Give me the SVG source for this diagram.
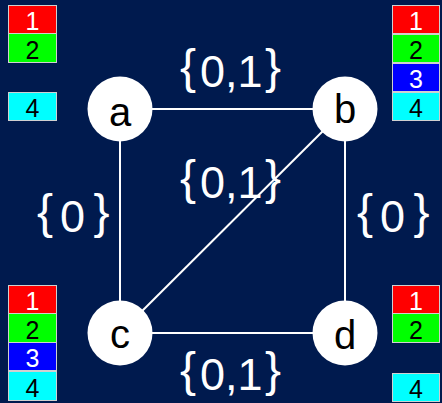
<svg xmlns="http://www.w3.org/2000/svg" width="442" height="403" viewBox="0 0 442 403">
<style>
.bg{fill:#001a4e}
.edge{stroke:#fff;stroke-width:2;fill:none}
.node circle{fill:#fff}
.node text{font-family:"Liberation Sans",Arial,sans-serif;font-size:40px;fill:#000;text-anchor:middle}
.lbl{font-family:"Liberation Sans",Arial,sans-serif;font-size:45px;fill:#fff}
.br{font-size:48px}
.box rect{stroke:#d0d0d0;stroke-width:1}
.box text{font-family:"Liberation Sans",Arial,sans-serif;font-size:25px;text-anchor:middle}
.r{fill:#ff0000}.g{fill:#00ff00}.b{fill:#0000ff}.c{fill:#00ffff}
.tw{fill:#fff}.tk{fill:#000}
</style>
<rect class="bg" x="0" y="0" width="442" height="403"/>
<g id="connectors">
<line class="edge" x1="120" y1="109" x2="345" y2="109"/>
<line class="edge" x1="120" y1="109" x2="120" y2="333"/>
<line class="edge" x1="345" y1="109" x2="345" y2="333"/>
<line class="edge" x1="120" y1="333" x2="345" y2="333"/>
<line class="edge" x1="345" y1="109" x2="120" y2="333"/>
</g>
<g id="edge-labels">
<text class="lbl"><tspan class="br" x="180" y="83">{</tspan><tspan x="200" y="87">0,1</tspan><tspan class="br" x="265" y="83">}</tspan></text>
<text class="lbl"><tspan class="br" x="180" y="194">{</tspan><tspan x="200" y="198">0,1</tspan><tspan class="br" x="265" y="194">}</tspan></text>
<text class="lbl"><tspan class="br" x="180" y="386">{</tspan><tspan x="200" y="390">0,1</tspan><tspan class="br" x="265" y="386">}</tspan></text>
<text class="lbl"><tspan class="br" x="37" y="228">{</tspan><tspan x="60" y="232">0</tspan><tspan class="br" x="93.5" y="228">}</tspan></text>
<text class="lbl"><tspan class="br" x="357" y="228">{</tspan><tspan x="380" y="232">0</tspan><tspan class="br" x="413.5" y="228">}</tspan></text>
</g>
<g id="node-a" class="node"><circle cx="120" cy="109" r="32.5"/><text x="120" y="126">a</text></g>
<g id="node-b" class="node"><circle cx="345" cy="109" r="32.5"/><text x="345" y="123">b</text></g>
<g id="node-c" class="node"><circle cx="120" cy="333" r="32.5"/><text x="120" y="348">c</text></g>
<g id="node-d" class="node"><circle cx="345" cy="333" r="32.5"/><text x="345" y="349">d</text></g>
<g id="colors-a" class="box">
<rect class="r" x="8.5" y="5.5" width="48" height="28"/><text class="tw" x="32.5" y="30">1</text>
<rect class="g" x="8.5" y="33.5" width="48" height="29"/><text class="tk" x="32.5" y="59">2</text>
<rect class="c" x="8.5" y="92.5" width="48" height="28"/><text class="tk" x="32.5" y="117">4</text>
</g>
<g id="colors-b" class="box">
<rect class="r" x="392.5" y="5.5" width="47" height="28"/><text class="tw" x="416" y="30">1</text>
<rect class="g" x="392.5" y="34.5" width="47" height="28"/><text class="tk" x="416" y="59">2</text>
<rect class="b" x="392.5" y="63.5" width="47" height="28"/><text class="tw" x="416" y="88">3</text>
<rect class="c" x="392.5" y="92.5" width="47" height="28"/><text class="tk" x="416" y="117">4</text>
</g>
<g id="colors-c" class="box">
<rect class="r" x="8.5" y="285.5" width="48" height="28"/><text class="tw" x="32.5" y="310">1</text>
<rect class="g" x="8.5" y="313.5" width="48" height="29"/><text class="tk" x="32.5" y="339">2</text>
<rect class="b" x="8.5" y="342.5" width="48" height="28"/><text class="tw" x="32.5" y="367">3</text>
<rect class="c" x="8.5" y="371.5" width="48" height="29"/><text class="tk" x="32.5" y="397">4</text>
</g>
<g id="colors-d" class="box">
<rect class="r" x="392.5" y="285.5" width="47" height="28"/><text class="tw" x="416" y="310">1</text>
<rect class="g" x="392.5" y="313.5" width="47" height="29"/><text class="tk" x="416" y="339">2</text>
<rect class="c" x="392.5" y="373.5" width="47" height="28"/><text class="tk" x="416" y="398">4</text>
</g>
</svg>
